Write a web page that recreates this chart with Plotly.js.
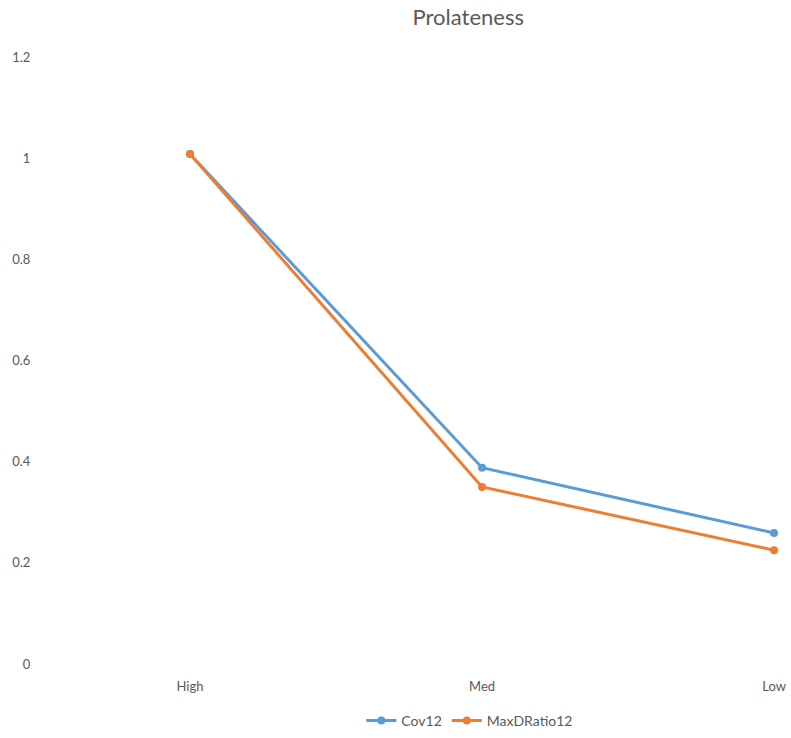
<!DOCTYPE html>
<html>
<head>
<meta charset="utf-8">
<script src="https://cdn.plot.ly/plotly-3.0.1.min.js"></script>
<style>html,body{margin:0;padding:0;background:#fff;}#chart{width:791px;height:738px;}</style>
</head>
<body>
<div id="chart"></div>
<script>
const categories = ["High", "Med", "Low"];
const cov12 = [1.008, 0.388, 0.259];
const maxDRatio12 = [1.008, 0.35, 0.225];
const seriesNames = ["Cov12", "MaxDRatio12"];
const yTicks = [0, 0.2, 0.4, 0.6, 0.8, 1, 1.2];

const font = "Lato, 'Open Sans', sans-serif";
const traces = [
  {x: categories, y: cov12, name: seriesNames[0], type: "scatter", mode: "lines+markers",
   line: {color: "#5B9BD5", width: 3}, marker: {color: "#5B9BD5", size: 8}},
  {x: categories, y: maxDRatio12, name: seriesNames[1], type: "scatter", mode: "lines+markers",
   line: {color: "#ED7D31", width: 3}, marker: {color: "#ED7D31", size: 8}}
];
const layout = {
  width: 791, height: 738,
  margin: {l: 45, r: 0, t: 57, b: 74},
  paper_bgcolor: "#fff", plot_bgcolor: "#fff",
  font: {family: font, color: "#595959", size: 13},
  title: {text: "Prolateness", font: {family: font, size: 22, color: "#595959"},
          xref: "container", x: 0.592, xanchor: "center", yref: "container", y: 0.977, yanchor: "middle"},
  xaxis: {type: "category", range: [-0.4966, 2.058], showgrid: false, zeroline: false, showline: false,
          ticks: "outside", ticklen: 10, tickcolor: "rgba(0,0,0,0)", tickfont: {size: 13}},
  yaxis: {range: [0, 1.2], tickvals: yTicks, ticktext: yTicks.map(String), showgrid: false, zeroline: false, showline: false,
          ticks: "outside", ticklen: 11, tickcolor: "rgba(0,0,0,0)", tickfont: {size: 13}},
  showlegend: true,
  legend: {orientation: "h", xref: "container", x: 0.594, xanchor: "center", yref: "container", y: 1 - 721/738, yanchor: "middle",
           font: {size: 14}, itemwidth: 30, traceorder: "normal"}
};
Plotly.newPlot("chart", traces, layout, {displayModeBar: false, staticPlot: true});
</script>
</body>
</html>
